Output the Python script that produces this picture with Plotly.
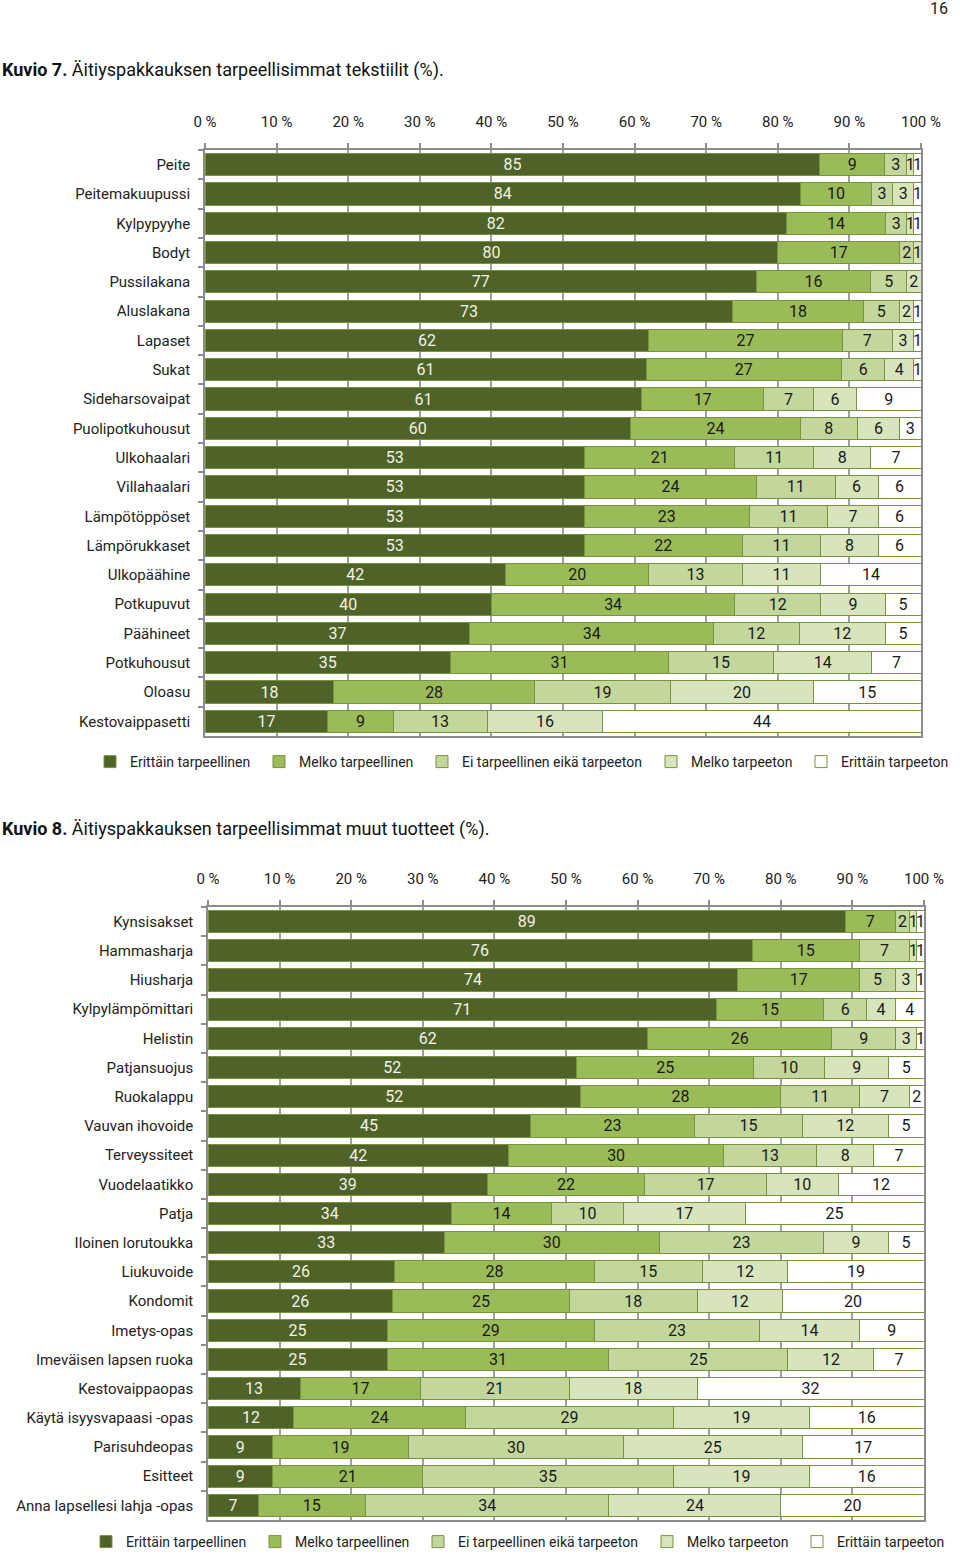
import plotly.graph_objects as go

# ---------- data: Kuvio 7 ----------
cats7 = ["Peite", "Peitemakuupussi", "Kylpypyyhe", "Bodyt", "Pussilakana", "Aluslakana",
         "Lapaset", "Sukat", "Sideharsovaipat", "Puolipotkuhousut", "Ulkohaalari",
         "Villahaalari", "Lämpötöppöset", "Lämpörukkaset", "Ulkopäähine", "Potkupuvut",
         "Päähineet", "Potkuhousut", "Oloasu", "Kestovaippasetti"]
erittain_tarp7 = [85, 84, 82, 80, 77, 73, 62, 61, 61, 60, 53, 53, 53, 53, 42, 40, 37, 35, 18, 17]
melko_tarp7 = [9, 10, 14, 17, 16, 18, 27, 27, 17, 24, 21, 24, 23, 22, 20, 34, 34, 31, 28, 9]
ei_eika7 = [3, 3, 3, 2, 5, 5, 7, 6, 7, 8, 11, 11, 11, 11, 13, 12, 12, 15, 19, 13]
melko_tarpeeton7 = [1, 3, 1, 1, 2, 2, 3, 4, 6, 6, 8, 6, 7, 8, 11, 9, 12, 14, 20, 16]
erittain_tarpeeton7 = [1, 1, 1, 0, 0, 1, 1, 1, 9, 3, 7, 6, 6, 6, 14, 5, 5, 7, 15, 44]

# ---------- data: Kuvio 8 ----------
cats8 = ["Kynsisakset", "Hammasharja", "Hiusharja", "Kylpylämpömittari", "Helistin",
         "Patjansuojus", "Ruokalappu", "Vauvan ihovoide", "Terveyssiteet", "Vuodelaatikko",
         "Patja", "Iloinen lorutoukka", "Liukuvoide", "Kondomit", "Imetys-opas",
         "Imeväisen lapsen ruoka", "Kestovaippaopas", "Käytä isyysvapaasi -opas",
         "Parisuhdeopas", "Esitteet", "Anna lapsellesi lahja -opas"]
erittain_tarp8 = [89, 76, 74, 71, 62, 52, 52, 45, 42, 39, 34, 33, 26, 26, 25, 25, 13, 12, 9, 9, 7]
melko_tarp8 = [7, 15, 17, 15, 26, 25, 28, 23, 30, 22, 14, 30, 28, 25, 29, 31, 17, 24, 19, 21, 15]
ei_eika8 = [2, 7, 5, 6, 9, 10, 11, 15, 13, 17, 10, 23, 15, 18, 23, 25, 21, 29, 30, 35, 34]
melko_tarpeeton8 = [1, 1, 3, 4, 3, 9, 7, 12, 8, 10, 17, 9, 12, 12, 14, 12, 18, 19, 25, 19, 24]
erittain_tarpeeton8 = [1, 1, 1, 4, 1, 5, 2, 5, 7, 12, 25, 5, 19, 20, 9, 7, 32, 16, 17, 16, 20]

series_names = ["Erittäin tarpeellinen", "Melko tarpeellinen", "Ei tarpeellinen eikä tarpeeton",
                "Melko tarpeeton", "Erittäin tarpeeton"]
tick_vals = [0, 10, 20, 30, 40, 50, 60, 70, 80, 90, 100]
tick_text = ["0 %", "10 %", "20 %", "30 %", "40 %", "50 %", "60 %", "70 %", "80 %", "90 %", "100 %"]

colors = ["#4f6228", "#9bbb59", "#c3d69b", "#d8e4bc", "#ffffff"]
text_colors = ["#f2f2e6", "#1a1a1a", "#1a1a1a", "#1a1a1a", "#1a1a1a"]
legend_w = [124, 118, 184, 105, 112]
FONT = "Roboto, Liberation Sans, sans-serif"
FS = 15

fig = go.Figure()

data7 = [erittain_tarp7, melko_tarp7, ei_eika7, melko_tarpeeton7, erittain_tarpeeton7]
data8 = [erittain_tarp8, melko_tarp8, ei_eika8, melko_tarpeeton8, erittain_tarpeeton8]

for i, name in enumerate(series_names):
    fig.add_trace(go.Bar(
        y=cats7, x=data7[i], name=name, orientation="h",
        text=data7[i], texttemplate="%{text}", textposition="inside", textangle=0,
        insidetextanchor="middle",
        textfont=dict(color=text_colors[i], size=16, family=FONT),
        marker=dict(color=colors[i], line=dict(color="#77933c", width=1)),
        xaxis="x", yaxis="y", legend="legend", legendwidth=legend_w[i], hoverinfo="skip",
    ))
for i, name in enumerate(series_names):
    fig.add_trace(go.Bar(
        y=cats8, x=data8[i], name=name, orientation="h",
        text=data8[i], texttemplate="%{text}", textposition="inside", textangle=0,
        insidetextanchor="middle",
        textfont=dict(color=text_colors[i], size=16, family=FONT),
        marker=dict(color=colors[i], line=dict(color="#77933c", width=1)),
        xaxis="x2", yaxis="y2", legend="legend2", legendwidth=legend_w[i], hoverinfo="skip",
    ))

H = 1558.0
W = 960.0

def xax(domain, anchor):
    return dict(domain=domain, anchor=anchor, side="top", range=[0, 100],
                tickvals=tick_vals, ticktext=tick_text, showgrid=True,
                gridcolor="#a0a0a0", gridwidth=1.5, showline=True, linecolor="#8c8c8c",
                linewidth=1.5, mirror=True, ticks="outside", ticklen=5, tickcolor="#8c8c8c",
                tickwidth=1.5, ticklabelstandoff=10, zeroline=False, automargin=False,
                tickfont=dict(size=FS, color="#222222", family=FONT), fixedrange=True)

def yax(domain, anchor):
    return dict(domain=domain, anchor=anchor, autorange="reversed", showline=True,
                linecolor="#8c8c8c", linewidth=1.5, mirror=True, ticks="outside",
                tickson="boundaries", ticklen=5, tickcolor="#8c8c8c", tickwidth=1.5,
                ticklabelstandoff=10, showgrid=False, automargin=False,
                tickfont=dict(size=FS, color="#222222", family=FONT), fixedrange=True)

fig.update_layout(
    width=960, height=1558,
    margin=dict(l=0, r=0, t=0, b=0, pad=0),
    paper_bgcolor="white", plot_bgcolor="white",
    barmode="stack", barnorm="percent", bargap=0.24,
    uniformtext=dict(mode="show", minsize=16),
    font=dict(family=FONT, color="#222222", size=FS),
    xaxis=xax([205 / W, 921 / W], "y"),
    yaxis=yax([1 - 736 / H, 1 - 150 / H], "x"),
    xaxis2=xax([208 / W, 924 / W], "y2"),
    yaxis2=yax([1 - 1520 / H, 1 - 907 / H], "x2"),
    legend=dict(orientation="h", x=90 / W, xanchor="left", y=1 - 762 / H, yanchor="middle",
                font=dict(size=14, family=FONT, color="#222222"), itemwidth=30,
                traceorder="normal", bgcolor="rgba(0,0,0,0)"),
    legend2=dict(orientation="h", x=86 / W, xanchor="left", y=0, yanchor="bottom",
                 font=dict(size=14, family=FONT, color="#222222"), itemwidth=30,
                 traceorder="normal", bgcolor="rgba(0,0,0,0)"),
    showlegend=True,
)

fig.add_annotation(text="16", x=950 / W, y=1 - 9 / H, xref="paper", yref="paper",
                   xanchor="right", yanchor="middle", showarrow=False,
                   font=dict(size=16, family=FONT, color="#222222"))
fig.add_annotation(text="<b>Kuvio 7.</b> Äitiyspakkauksen tarpeellisimmat tekstiilit (%).",
                   x=0, y=1 - 70 / H, xref="paper", yref="paper", xanchor="left",
                   yanchor="middle", showarrow=False,
                   font=dict(size=18, family=FONT, color="#111111"))
fig.add_annotation(text="<b>Kuvio 8.</b> Äitiyspakkauksen tarpeellisimmat muut tuotteet (%).",
                   x=0, y=1 - 829 / H, xref="paper", yref="paper", xanchor="left",
                   yanchor="middle", showarrow=False,
                   font=dict(size=18, family=FONT, color="#111111"))

fig.write_html("out.html", config={"displayModeBar": False},
               post_script="document.body.style.margin='0px';")
